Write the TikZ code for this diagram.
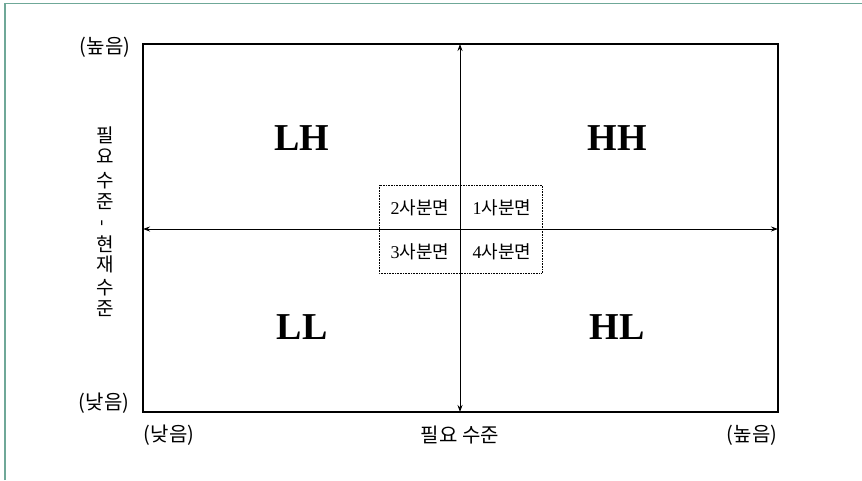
\documentclass[tikz,border=0pt]{standalone}
\usepackage{fontspec}
\setmainfont{Liberation Serif}
\newfontfamily\kr{Noto Sans CJK KR}
\usetikzlibrary{arrows.meta}
\definecolor{framegreen}{HTML}{6FA898}
\tikzset{
  axis/.style={line width=0.9pt},
  tips/.style={{Stealth[length=7pt,width=5pt]}-{Stealth[length=7pt,width=5pt]}},
  box/.style={line width=1.6pt},
  quad/.style={font=\fontsize{38}{38}\selectfont\bfseries},
  lbl/.style={font=\fontsize{20}{20}\selectfont\kr, inner sep=0pt},
  vch/.style={font=\fontsize{19}{19}\selectfont\kr, inner sep=0pt},
  sub/.style={font=\fontsize{18}{18}\selectfont, inner sep=0pt}
}
\begin{document}
\begin{tikzpicture}[x=1pt,y=-1pt]
\useasboundingbox (0,0) rectangle (862,480);
\fill[white] (0,0) rectangle (862,480);
\draw[framegreen, line width=1.6pt] (5,480) -- (5,3.5) -- (862,3.5);
% main frame
\draw[box] (143,44) rectangle (778,412);
\coordinate (top) at (460,44);
\coordinate (bot) at (460,412);
\coordinate (lft) at (143,229);
\coordinate (rgt) at (778,229);
\draw[axis, tips] (top) -- (bot);
\draw[axis, tips] (lft) -- (rgt);
% dotted box
\draw[densely dotted, line width=0.6pt] (379,185) rectangle (542,273);
% quadrant labels
\node[quad] (lh) at (302,138) {LH};
\node[quad] (hh) at (617,138) {HH};
\node[quad] (ll) at (302,327) {LL};
\node[quad] (hl) at (617,327) {HL};
% sub labels
\node[sub] (q2) at (420,208) {2{\kr 사분면}};
\node[sub] (q1) at (502,208) {1{\kr 사분면}};
\node[sub] (q3) at (420,252) {3{\kr 사분면}};
\node[sub] (q4) at (502,252) {4{\kr 사분면}};
% axis end labels
\node[lbl] (yhigh) at (105,47) {(높음)};
\node[lbl] (ylow) at (104,403) {(낮음)};
\node[lbl] (xlow) at (169,435) {(낮음)};
\node[lbl] (xname) at (460,435) {필요 수준};
\node[lbl] (xhigh) at (752,435) {(높음)};
% vertical y label
\node[vch] (v1) at (105,135) {필};
\node[vch] (v2) at (105,156) {요};
\node[vch] (v3) at (105,181) {수};
\node[vch] (v4) at (105,202) {준};
\node[vch, rotate=90] (v5) at (105,223) {-};
\node[vch] (v6) at (105,244) {현};
\node[vch] (v7) at (105,264) {재};
\node[vch] (v8) at (105,288) {수};
\node[vch] (v9) at (105,309) {준};
\end{tikzpicture}
\end{document}
